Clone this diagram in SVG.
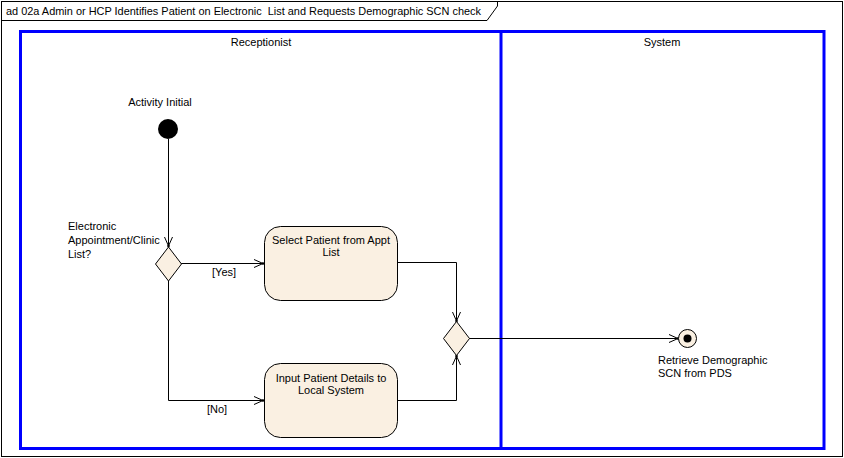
<svg xmlns="http://www.w3.org/2000/svg" width="844" height="458" viewBox="0 0 844 458">
  <style>
    text { font-family: "Liberation Sans", Arial, sans-serif; font-size: 11px; fill: #000; }
    .mid { text-anchor: middle; }
    .pre { white-space: pre; }
    .lane { fill: none; stroke: #0000FF; stroke-width: 3; }
    .frame { fill: #fff; stroke: #000; stroke-width: 1; }
    .node { fill: #FAF0E2; stroke: #000; stroke-width: 1; }
    .flow { fill: none; stroke: #000; stroke-width: 1; marker-end: url(#arrow); }
  </style>
  <defs>
    <marker id="arrow" markerUnits="userSpaceOnUse" viewBox="-10 -6 12 12" refX="0" refY="0" markerWidth="12" markerHeight="12" orient="auto">
      <path d="M-9,-4 L0,0 L-9,4" fill="none" stroke="#000" stroke-width="1"/>
      <circle cx="0" cy="0" r="1.3" fill="#000"/>
    </marker>
  </defs>

  <rect width="844" height="458" fill="#fff"/>

  <!-- diagram frame with title tab -->
  <g id="frame">
    <rect class="frame" x="1.5" y="1.5" width="841" height="455"/>
    <path d="M1.5,20.5 H487 L497.5,6 V1.5" fill="none" stroke="#000"/>
    <text class="pre" xml:space="preserve" x="6" y="15" textLength="475" lengthAdjust="spacingAndGlyphs">ad 02a Admin or HCP Identifies Patient on Electronic  List and Requests Demographic SCN check</text>
  </g>

  <!-- swimlanes -->
  <g id="lanes">
    <rect class="lane" x="20.5" y="31.5" width="803.5" height="417"/>
    <line class="lane" x1="501" y1="31.5" x2="501" y2="448.5"/>
    <text class="mid" x="261" y="46">Receptionist</text>
    <text class="mid" x="662" y="46">System</text>
  </g>

  <!-- connectors -->
  <g id="connectors">
    <path class="flow" d="M168.5,139 V246"/>
    <path class="flow" d="M181,263.5 H263"/>
    <path class="flow" d="M168.5,281 V400.5 H263"/>
    <path class="flow" d="M397,262.5 H456.5 V321"/>
    <path class="flow" d="M397,400.5 H456.5 V356"/>
    <path class="flow" d="M469,338.5 H678"/>
    <text x="212" y="276">[Yes]</text>
    <text x="207" y="413">[No]</text>
  </g>

  <!-- initial node -->
  <g id="initial">
    <circle cx="168" cy="129" r="10" fill="#000"/>
    <text class="mid" x="160" y="106">Activity Initial</text>
  </g>

  <!-- decision -->
  <g id="decision">
    <path class="node" d="M168.5,247 L181.5,264 L168.5,281 L155.5,264 Z"/>
    <text x="68" y="230">Electronic</text>
    <text x="68" y="244">Appointment/Clinic</text>
    <text x="68" y="258">List?</text>
  </g>

  <!-- actions -->
  <g id="select-patient">
    <rect class="node" x="264.5" y="226.5" width="133" height="74" rx="16" ry="16"/>
    <text class="mid" x="331" y="244">Select Patient from Appt</text>
    <text class="mid" x="331" y="256">List</text>
  </g>

  <g id="input-patient">
    <rect class="node" x="264.5" y="363.5" width="133" height="74" rx="16" ry="16"/>
    <text class="mid" x="331" y="382">Input Patient Details to</text>
    <text class="mid" x="331" y="394">Local System</text>
  </g>

  <!-- merge -->
  <g id="merge">
    <path class="node" d="M456.5,321.5 L469.5,338.5 L456.5,355.5 L443.5,338.5 Z"/>
  </g>

  <!-- final node -->
  <g id="final">
    <circle cx="687.5" cy="338.5" r="9" fill="#FAF0E2" stroke="#000"/>
    <circle cx="687.5" cy="338.5" r="4" fill="#000"/>
    <text x="658" y="364">Retrieve Demographic</text>
    <text x="658" y="377">SCN from PDS</text>
  </g>
</svg>
